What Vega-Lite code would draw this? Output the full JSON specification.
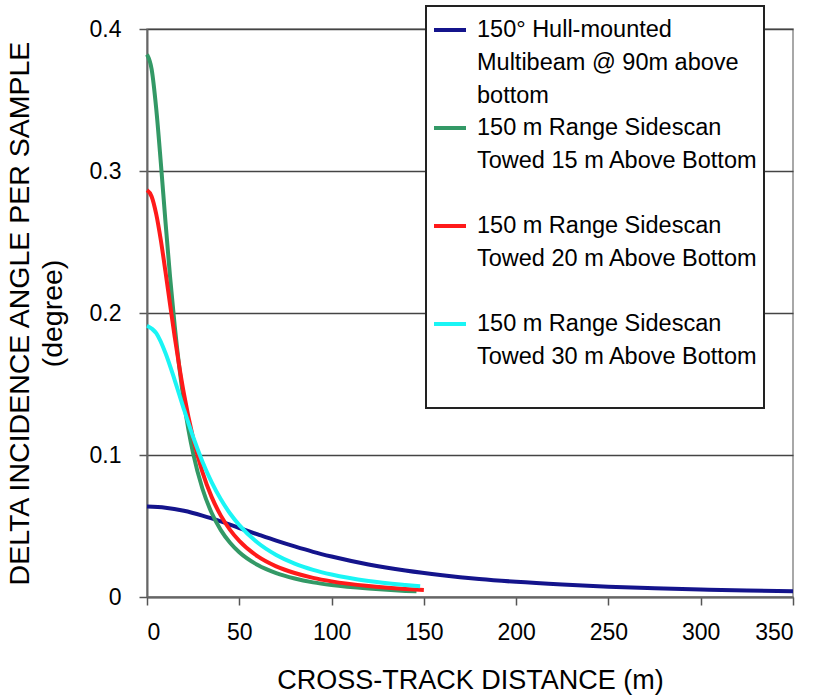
{
  "$schema": "https://vega.github.io/schema/vega-lite/v6.json",
  "width": 646,
  "height": 568,
  "autosize": {"type": "none"},
  "padding": {"left": 147, "top": 29, "right": 30, "bottom": 101},
  "background": "white",
  "config": {
    "font": "Liberation Sans",
    "view": {"stroke": "#8c8c8c", "strokeWidth": 1.5}
  },
  "data": {
    "values": [
      {"s": "mb", "x": 0, "y": 0.0637},
      {"s": "mb", "x": 10, "y": 0.0629},
      {"s": "mb", "x": 20, "y": 0.0607},
      {"s": "mb", "x": 30, "y": 0.0573},
      {"s": "mb", "x": 40, "y": 0.0532},
      {"s": "mb", "x": 50, "y": 0.0486},
      {"s": "mb", "x": 60, "y": 0.0441},
      {"s": "mb", "x": 70, "y": 0.0397},
      {"s": "mb", "x": 80, "y": 0.0356},
      {"s": "mb", "x": 90, "y": 0.0318},
      {"s": "mb", "x": 100, "y": 0.0285},
      {"s": "mb", "x": 120, "y": 0.0229},
      {"s": "mb", "x": 140, "y": 0.0186},
      {"s": "mb", "x": 160, "y": 0.0153},
      {"s": "mb", "x": 180, "y": 0.0127},
      {"s": "mb", "x": 200, "y": 0.0107},
      {"s": "mb", "x": 225, "y": 0.0088},
      {"s": "mb", "x": 250, "y": 0.0073},
      {"s": "mb", "x": 275, "y": 0.0062},
      {"s": "mb", "x": 300, "y": 0.0053},
      {"s": "mb", "x": 325, "y": 0.0045},
      {"s": "mb", "x": 350, "y": 0.0040},
      {"s": "ss15", "x": 0, "y": 0.382},
      {"s": "ss15", "x": 2.5, "y": 0.3717},
      {"s": "ss15", "x": 5, "y": 0.3438},
      {"s": "ss15", "x": 7.5, "y": 0.3056},
      {"s": "ss15", "x": 10, "y": 0.2644},
      {"s": "ss15", "x": 12.5, "y": 0.2254},
      {"s": "ss15", "x": 15, "y": 0.1910},
      {"s": "ss15", "x": 17.5, "y": 0.1618},
      {"s": "ss15", "x": 20, "y": 0.1375},
      {"s": "ss15", "x": 22.5, "y": 0.1175},
      {"s": "ss15", "x": 25, "y": 0.1011},
      {"s": "ss15", "x": 30, "y": 0.0764},
      {"s": "ss15", "x": 35, "y": 0.0593},
      {"s": "ss15", "x": 40, "y": 0.0471},
      {"s": "ss15", "x": 45, "y": 0.0382},
      {"s": "ss15", "x": 50, "y": 0.0315},
      {"s": "ss15", "x": 60, "y": 0.0225},
      {"s": "ss15", "x": 70, "y": 0.0168},
      {"s": "ss15", "x": 80, "y": 0.0130},
      {"s": "ss15", "x": 90, "y": 0.0103},
      {"s": "ss15", "x": 100, "y": 0.0084},
      {"s": "ss15", "x": 120, "y": 0.0059},
      {"s": "ss15", "x": 140, "y": 0.0043},
      {"s": "ss15", "x": 146, "y": 0.0040},
      {"s": "ss20", "x": 0, "y": 0.2865},
      {"s": "ss20", "x": 2.5, "y": 0.2821},
      {"s": "ss20", "x": 5, "y": 0.2696},
      {"s": "ss20", "x": 7.5, "y": 0.2512},
      {"s": "ss20", "x": 10, "y": 0.2292},
      {"s": "ss20", "x": 12.5, "y": 0.2060},
      {"s": "ss20", "x": 15, "y": 0.1833},
      {"s": "ss20", "x": 17.5, "y": 0.1623},
      {"s": "ss20", "x": 20, "y": 0.1432},
      {"s": "ss20", "x": 25, "y": 0.1118},
      {"s": "ss20", "x": 30, "y": 0.0881},
      {"s": "ss20", "x": 35, "y": 0.0705},
      {"s": "ss20", "x": 40, "y": 0.0573},
      {"s": "ss20", "x": 45, "y": 0.0473},
      {"s": "ss20", "x": 50, "y": 0.0395},
      {"s": "ss20", "x": 60, "y": 0.0286},
      {"s": "ss20", "x": 70, "y": 0.0216},
      {"s": "ss20", "x": 80, "y": 0.0169},
      {"s": "ss20", "x": 90, "y": 0.0135},
      {"s": "ss20", "x": 100, "y": 0.0110},
      {"s": "ss20", "x": 120, "y": 0.0077},
      {"s": "ss20", "x": 140, "y": 0.0057},
      {"s": "ss20", "x": 150, "y": 0.0050},
      {"s": "ss30", "x": 0, "y": 0.1910},
      {"s": "ss30", "x": 5, "y": 0.1858},
      {"s": "ss30", "x": 10, "y": 0.1719},
      {"s": "ss30", "x": 15, "y": 0.1528},
      {"s": "ss30", "x": 20, "y": 0.1322},
      {"s": "ss30", "x": 25, "y": 0.1127},
      {"s": "ss30", "x": 30, "y": 0.0955},
      {"s": "ss30", "x": 35, "y": 0.0809},
      {"s": "ss30", "x": 40, "y": 0.0688},
      {"s": "ss30", "x": 45, "y": 0.0588},
      {"s": "ss30", "x": 50, "y": 0.0506},
      {"s": "ss30", "x": 60, "y": 0.0382},
      {"s": "ss30", "x": 70, "y": 0.0296},
      {"s": "ss30", "x": 80, "y": 0.0235},
      {"s": "ss30", "x": 90, "y": 0.0191},
      {"s": "ss30", "x": 100, "y": 0.0158},
      {"s": "ss30", "x": 120, "y": 0.0112},
      {"s": "ss30", "x": 140, "y": 0.0084},
      {"s": "ss30", "x": 148, "y": 0.0075}
    ]
  },
  "mark": {"type": "line", "strokeWidth": 4, "interpolate": "monotone"},
  "encoding": {
    "x": {
      "field": "x",
      "type": "quantitative",
      "scale": {"domain": [0, 350], "nice": false},
      "axis": {
        "values": [0, 50, 100, 150, 200, 250, 300, 350],
        "grid": false,
        "title": "CROSS-TRACK DISTANCE (m)",
        "titleFontSize": 27,
        "titleFontWeight": "normal",
        "titleColor": "#000",
        "titlePadding": 23,
        "labelFontSize": 23,
        "labelColor": "#000",
        "labelPadding": 16,
        "tickSize": 8,
        "tickColor": "#555",
        "tickWidth": 1.5,
        "domainColor": "#666",
        "domainWidth": 2
      }
    },
    "y": {
      "field": "y",
      "type": "quantitative",
      "scale": {"domain": [0, 0.4], "nice": false},
      "axis": {
        "values": [0, 0.1, 0.2, 0.3, 0.4],
        "format": ".1~f",
        "grid": true,
        "gridColor": "#444",
        "gridWidth": 1.5,
        "title": ["DELTA INCIDENCE ANGLE PER SAMPLE", "(degree)"],
        "titleFontSize": 28.5,
        "titleFontWeight": "normal",
        "titleColor": "#000",
        "titleLineHeight": 33,
        "titlePadding": 22,
        "labelFontSize": 23,
        "labelColor": "#000",
        "labelPadding": 18,
        "tickSize": 8,
        "tickColor": "#555",
        "tickWidth": 1.5,
        "domainColor": "#666",
        "domainWidth": 2
      }
    },
    "color": {
      "field": "s",
      "type": "nominal",
      "scale": {
        "domain": ["mb", "ss15", "ss20", "ss30"],
        "range": ["#14148c", "#339966", "#ff1a1a", "#1af5f5"]
      },
      "legend": {
        "title": null,
        "orient": "none",
        "legendX": 279,
        "legendY": -23,
        "direction": "vertical",
        "strokeColor": "#222",
        "fillColor": "white",
        "padding": 6,
        "symbolType": "stroke",
        "symbolSize": 1024,
        "symbolStrokeWidth": 4,
        "labelOffset": 9,
        "labelFontSize": 23.5,
        "labelColor": "#000",
        "labelLimit": 400,
        "rowPadding": 2,
        "labelExpr": "datum.value == 'mb' ? ['150° Hull-mounted', 'Multibeam @ 90m above', 'bottom'] : datum.value == 'ss15' ? ['150 m Range Sidescan', 'Towed 15 m Above Bottom\u00a0\u00a0\u00a0\u00a0\u00a0', ' '] : datum.value == 'ss20' ? ['150 m Range Sidescan', 'Towed 20 m Above Bottom', ' '] : ['150 m Range Sidescan', 'Towed 30 m Above Bottom', ' ']",
        "encode": {
          "legend": {"update": {"strokeWidth": {"value": 2}}},
          "labels": {"update": {"lineHeight": {"value": 33}}}
        }
      }
    }
  }
}
